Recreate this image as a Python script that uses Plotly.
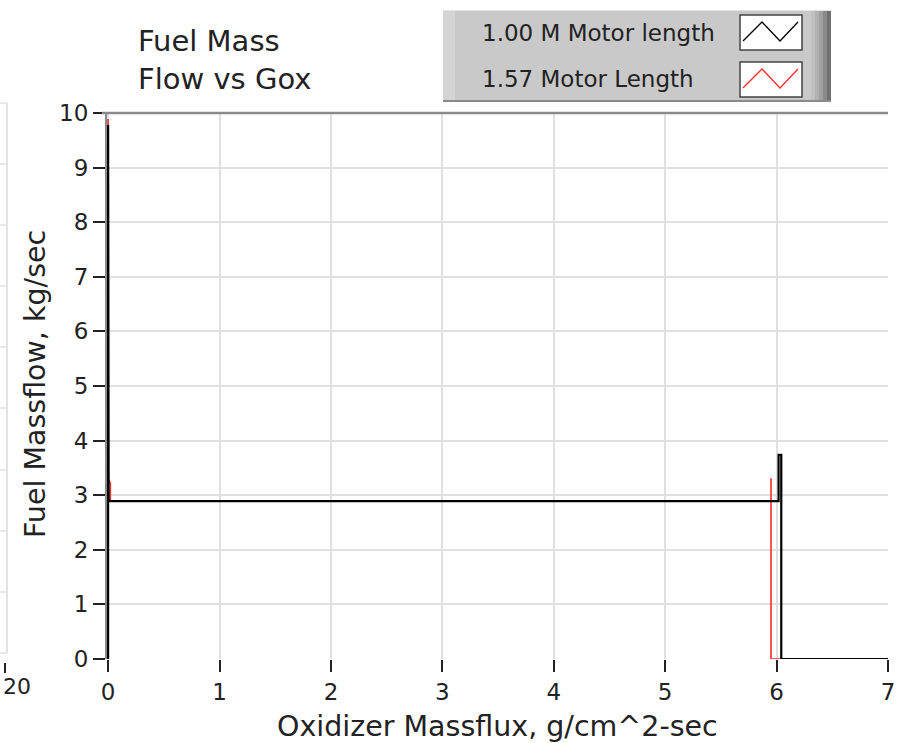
import plotly.graph_objects as go

# ---- data ----
x_1m = [0, 0, 0.005, 6.018, 6.018, 6.042, 6.042, 7.0]
y_1m = [0, 9.78, 2.89, 2.89, 3.74, 3.74, 0, 0]
x_157 = [0, 0, 0, 0.02, 0.02, 5.95, 5.95, 5.95, 7.0]
y_157 = [0, 9.89, 3.3, 3.22, 2.89, 2.89, 3.31, 0, 0]
series_names = ["1.00 M Motor length", "1.57 Motor Length"]
x_ticks = [0, 1, 2, 3, 4, 5, 6, 7]
y_ticks = [0, 1, 2, 3, 4, 5, 6, 7, 8, 9, 10]

FONT = "DejaVu Sans"
W_FIG, H_FIG = 902, 743
L, R, T, B = 107, 888, 113, 659
PW, PH = R - L, B - T
X0 = -0.01


def px(x):
    return (x - L) / PW


def py(y):
    return (B - y) / PH


fig = go.Figure()
fig.add_trace(go.Scatter(x=x_157, y=y_157, mode="lines", name=series_names[1],
                         line=dict(color="#ff2a2a", width=1.6), showlegend=False))
fig.add_trace(go.Scatter(x=x_1m, y=y_1m, mode="lines", name=series_names[0],
                         line=dict(color="#000000", width=2.2), showlegend=False))

shapes = []
# top border of plot
shapes.append(dict(type="line", xref="paper", yref="paper", x0=px(102), x1=1, y0=1, y1=1,
                   line=dict(color="#8a8a8a", width=2.5)))

# partial neighbouring chart on the far left
shapes.append(dict(type="line", xref="paper", yref="paper", x0=px(7), x1=px(7), y0=py(103), y1=py(653),
                   line=dict(color="#d8d8d8", width=1.5)))
for yy in [103, 164, 225, 286, 347, 408, 470, 531, 592, 653]:
    shapes.append(dict(type="line", xref="paper", yref="paper", x0=px(0), x1=px(7), y0=py(yy), y1=py(yy),
                       line=dict(color="#e2e2e2", width=1.5)))
shapes.append(dict(type="line", xref="paper", yref="paper", x0=px(5), x1=px(5), y0=py(663), y1=py(673),
                   line=dict(color="#222222", width=2)))

# legend box (LabVIEW style)
shapes.append(dict(type="rect", xref="paper", yref="paper", x0=px(443), x1=px(831), y0=py(102), y1=py(10),
                   fillcolor="#c9c9c9", line=dict(width=0), layer="above"))
shapes.append(dict(type="rect", xref="paper", yref="paper", x0=px(443), x1=px(455), y0=py(102), y1=py(10),
                   fillcolor="#d4d4d4", line=dict(width=0), layer="above"))
for x0, x1, c in [(811, 815, "#c0c0c0"), (815, 819, "#b2b2b2"), (819, 823, "#a0a0a0"),
                  (823, 827, "#8a8a8a"), (827, 831, "#707070")]:
    shapes.append(dict(type="rect", xref="paper", yref="paper", x0=px(x0), x1=px(x1), y0=py(102), y1=py(10),
                       fillcolor=c, line=dict(width=0), layer="above"))
shapes.append(dict(type="line", xref="paper", yref="paper", x0=px(443), x1=px(831), y0=py(101), y1=py(101),
                   line=dict(color="#8a8a8a", width=2), layer="above"))
shapes.append(dict(type="line", xref="paper", yref="paper", x0=px(443), x1=px(831), y0=py(10.5), y1=py(10.5),
                   line=dict(color="#e6e6e6", width=1), layer="above"))

for (y0, y1), col in zip([(15, 50), (62, 97)], ["#000000", "#ff2a2a"]):
    shapes.append(dict(type="rect", xref="paper", yref="paper", x0=px(740), x1=px(802), y0=py(y1), y1=py(y0),
                       fillcolor="#ffffff", line=dict(color="#444444", width=1.5), layer="above"))
    top, bot = y0 + 7, y1 - 9
    pts = [(743, bot), (762, top), (780, bot), (798, top)]
    path = "M " + " L ".join(f"{px(a):.5f},{py(b):.5f}" for a, b in pts)
    shapes.append(dict(type="path", xref="paper", yref="paper", path=path,
                       line=dict(color=col, width=1.3), layer="above"))

annotations = [
    dict(text="Fuel Mass<br>Flow vs Gox", xref="paper", yref="paper", x=px(136), y=py(22),
         xanchor="left", yanchor="top", align="left", showarrow=False,
         font=dict(family=FONT, size=29, color="#222222")),
    dict(text=series_names[0], xref="paper", yref="paper", x=px(480), y=py(33),
         xanchor="left", yanchor="middle", showarrow=False,
         font=dict(family=FONT, size=23, color="#222222")),
    dict(text=series_names[1], xref="paper", yref="paper", x=px(480), y=py(79),
         xanchor="left", yanchor="middle", showarrow=False,
         font=dict(family=FONT, size=23, color="#222222")),
    dict(text="Oxidizer Massflux, g/cm^2-sec", xref="paper", yref="paper", x=px(497), y=py(726),
         xanchor="center", yanchor="middle", showarrow=False,
         font=dict(family=FONT, size=28.5, color="#222222")),
    dict(text="Fuel Massflow, kg/sec", xref="paper", yref="paper", x=px(35), y=py(384),
         xanchor="center", yanchor="middle", showarrow=False, textangle=-90,
         font=dict(family=FONT, size=28.5, color="#222222")),
    dict(text="20", xref="paper", yref="paper", x=px(1), y=py(686),
         xanchor="left", yanchor="middle", showarrow=False,
         font=dict(family=FONT, size=22, color="#222222")),
]

fig.update_layout(
    width=W_FIG, height=H_FIG,
    margin=dict(l=L, r=W_FIG - R, t=T, b=H_FIG - B, autoexpand=False),
    paper_bgcolor="#ffffff", plot_bgcolor="#ffffff",
    shapes=shapes, annotations=annotations,
    showlegend=False,
    xaxis=dict(range=[X0, 7], tickvals=x_ticks, ticktext=[str(v) for v in x_ticks],
               showgrid=True, gridcolor="#e0e0e0", gridwidth=1.5, zeroline=False,
               showline=False, ticks="outside", ticklen=12, tickwidth=2, tickcolor="#222222",
               tickfont=dict(family=FONT, size=23, color="#222222"), fixedrange=True),
    yaxis=dict(range=[0, 10], tickvals=y_ticks, ticktext=[str(v) for v in y_ticks],
               showgrid=True, gridcolor="#e0e0e0", gridwidth=1.5, zeroline=False,
               showline=True, linecolor="#8a8a8a", linewidth=2,
               ticks="outside", ticklen=12, tickwidth=2, tickcolor="#222222",
               tickfont=dict(family=FONT, size=23, color="#222222"), fixedrange=True),
)

fig.write_html("out.html")
